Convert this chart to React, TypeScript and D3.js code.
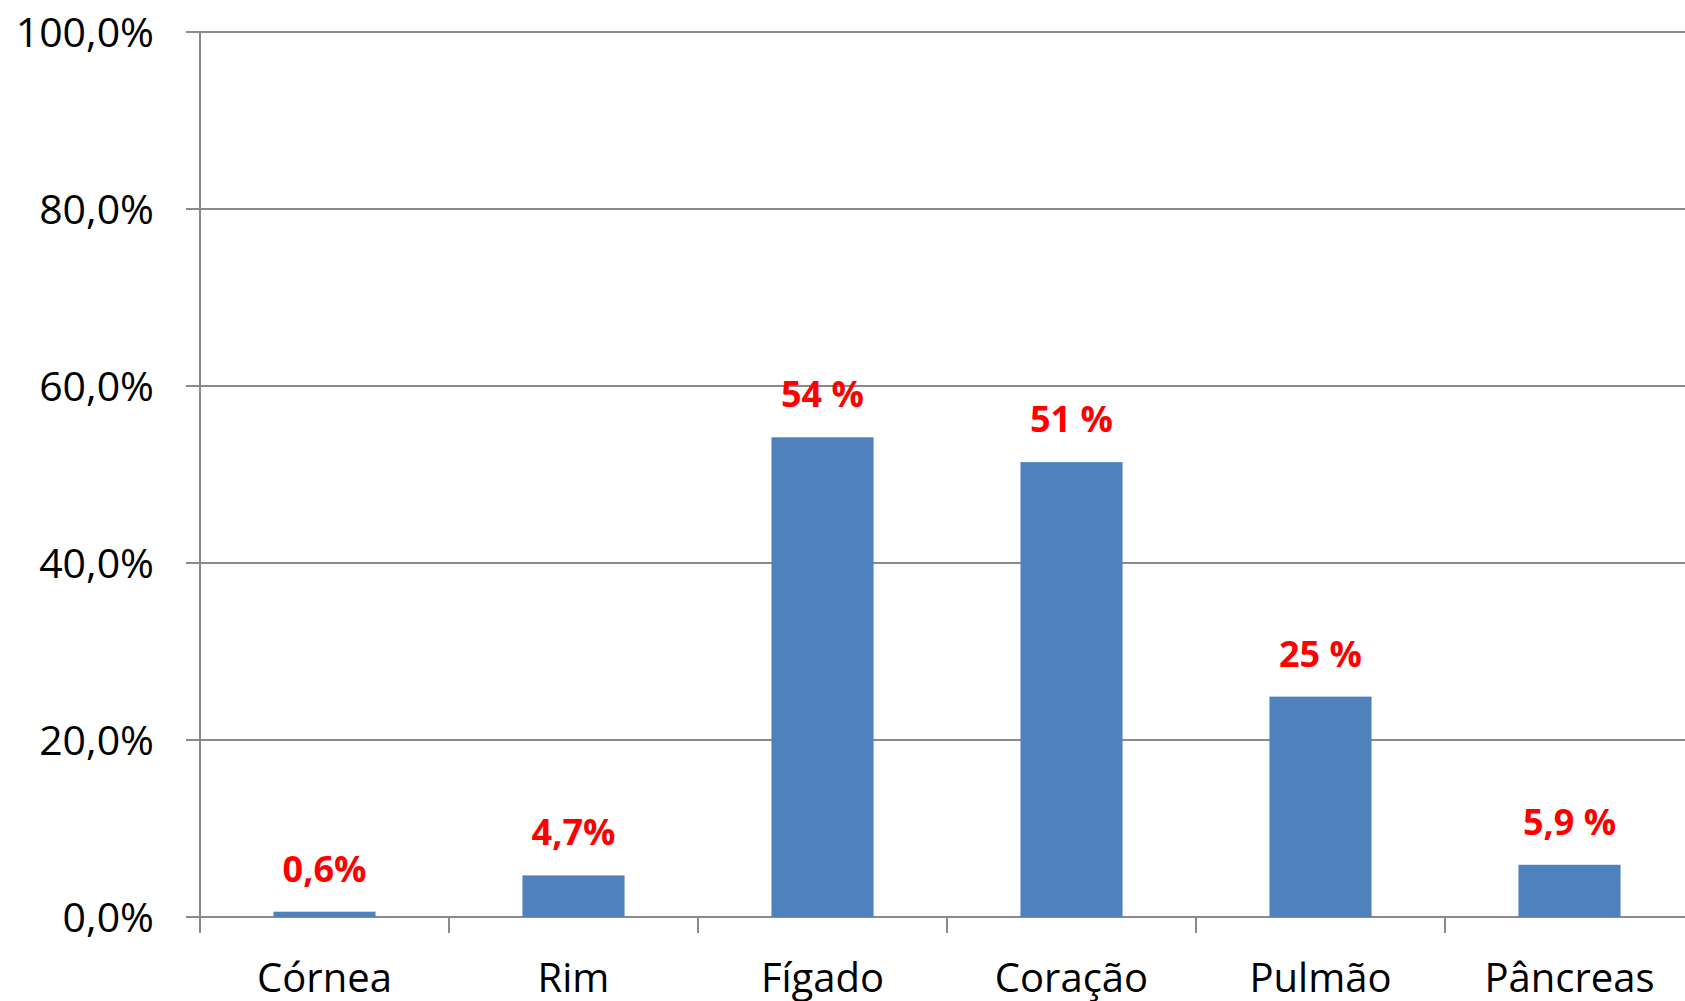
import React, { useEffect, useRef } from 'react';
import * as d3 from 'd3';

const categories = ['Córnea', 'Rim', 'Fígado', 'Coração', 'Pulmão', 'Pâncreas'];
const values = [0.6, 4.7, 54.2, 51.4, 24.9, 5.9];
const valueLabels = ['0,6%', '4,7%', '54 %', '51 %', '25 %', '5,9 %'];
const yTicks = [0, 20, 40, 60, 80, 100];

const App = () => {
  const svgRef = useRef<SVGSVGElement>(null);

  useEffect(() => {
    const svg = d3.select(svgRef.current);
    svg.selectAll('*').remove();

    const left = 200;
    const top = 32;
    const bottom = 917;
    const bandW = 249; // plot runs past the right edge, as in the original

    const x = d3.scaleBand()
      .domain(categories)
      .range([left, left + bandW * categories.length])
      .paddingInner(0.59)
      .paddingOuter(0.295);

    const y = d3.scaleLinear().domain([0, 100]).range([bottom, top]);

    const fmt = (d: number) => d.toFixed(1).replace('.', ',') + '%';

    // gridlines + left tick marks
    svg.append('g')
      .selectAll('line')
      .data(yTicks)
      .enter()
      .append('line')
      .attr('x1', left - 14)
      .attr('x2', 1685)
      .attr('y1', d => y(d))
      .attr('y2', d => y(d))
      .attr('stroke', '#8a8a8a')
      .attr('stroke-width', 2);

    svg.append('g')
      .selectAll('text')
      .data(yTicks)
      .enter()
      .append('text')
      .attr('x', 154)
      .attr('y', d => y(d))
      .attr('dy', '0.36em')
      .attr('text-anchor', 'end')
      .style('font-family', '"Open Sans", sans-serif')
      .style('font-size', '41px')
      .style('fill', '#000')
      .text(fmt);

    // bars
    svg.append('g')
      .selectAll('rect')
      .data(values)
      .enter()
      .append('rect')
      .attr('x', (d, i) => x(categories[i]) as number)
      .attr('y', d => y(d))
      .attr('width', x.bandwidth())
      .attr('height', d => bottom - y(d))
      .attr('fill', '#4f81bd');

    // y axis line
    svg.append('line')
      .attr('x1', left)
      .attr('x2', left)
      .attr('y1', top)
      .attr('y2', bottom + 16)
      .attr('stroke', '#8a8a8a')
      .attr('stroke-width', 2);

    // category tick marks
    svg.append('g')
      .selectAll('line')
      .data(d3.range(1, categories.length + 1))
      .enter()
      .append('line')
      .attr('x1', i => left + i * bandW)
      .attr('x2', i => left + i * bandW)
      .attr('y1', bottom)
      .attr('y2', bottom + 16)
      .attr('stroke', '#8a8a8a')
      .attr('stroke-width', 2);

    // category labels
    svg.append('g')
      .selectAll('text')
      .data(categories)
      .enter()
      .append('text')
      .attr('x', d => (x(d) as number) + x.bandwidth() / 2)
      .attr('y', 992)
      .attr('text-anchor', 'middle')
      .style('font-family', '"Open Sans", sans-serif')
      .style('font-size', '40px')
      .style('fill', '#000')
      .text(d => d);

    // value labels
    svg.append('g')
      .selectAll('text')
      .data(values)
      .enter()
      .append('text')
      .attr('x', (d, i) => (x(categories[i]) as number) + x.bandwidth() / 2)
      .attr('y', d => y(d) - 30)
      .attr('text-anchor', 'middle')
      .style('font-family', '"Open Sans", sans-serif')
      .style('font-weight', 'bold')
      .style('font-size', '36px')
      .style('fill', '#ff0000')
      .text((d, i) => valueLabels[i]);
  }, []);

  return (
    <svg
      ref={svgRef}
      width={1685}
      height={1001}
      style={{ position: 'absolute', left: 0, top: 0, background: '#fff' }}
    ></svg>
  );
};

export default App;
